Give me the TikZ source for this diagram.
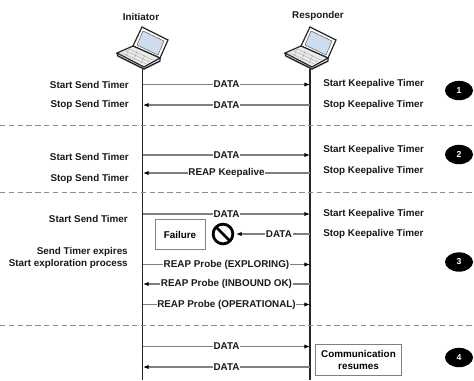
\documentclass[tikz,border=0pt]{standalone}
\usepackage{fontspec}
\setmainfont{Liberation Sans}
\usetikzlibrary{arrows.meta,shapes.geometric,calc}
\definecolor{linegray}{gray}{0.5}
\definecolor{screenblue}{RGB}{205,220,238}
\tikzset{
  x=0.75pt,y=-0.75pt,
  lbl/.style={font=\fontsize{7.4}{9}\selectfont\bfseries,inner sep=0pt,text=black!90},
  leftlbl/.style={lbl,anchor=east},
  rightlbl/.style={lbl,anchor=west},
  msg/.style={lbl,fill=white,inner xsep=0.5pt,inner ysep=0.5pt},
  conn/.style={draw=linegray,line width=0.8pt,-{Latex[length=4.2pt,width=3.2pt,black]}},
  life/.style={draw=black!85,line width=1.3pt},
  sep/.style={draw=black!45,dashed,dash pattern=on 4pt off 2.6pt,line width=0.6pt},
  badge/.style={ellipse,fill=black,text=white,minimum width=21pt,minimum height=14.5pt,inner sep=0pt,font=\fontsize{6.5}{8}\selectfont\bfseries},
  infobox/.style={draw=black!50,fill=white,line width=0.6pt,align=center,font=\fontsize{7.4}{9}\selectfont\bfseries,inner sep=0pt},
  laptop/.pic={
    \fill[white,draw=black!85,line width=0.9pt] (0,-41)--(26,-28)--(18,-10)--(-9,-22)--cycle;
    \fill[screenblue,draw=black!60,line width=0.4pt] (1,-37)--(22,-27)--(16,-13)--(-5,-23)--cycle;
    \fill[black!8,draw=black!85,line width=0.9pt] (-9,-22)--(18,-10)--(2,-1)--(-25,-15)--cycle;
    \draw[black!85,line width=1.1pt] (-25,-15)--(-24,-12)--(2,1)--(18,-7)--(18,-10);
    \draw[black!35,line width=0.3pt] (-16,-17)--(8,-6) (-13,-19)--(11,-8) (-20,-15)--(4,-4);
    \draw[black!35,line width=0.3pt] (-13,-20)--(-16,-12) (-5,-17)--(-8,-8) (3,-13)--(-1,-5);
  },
}
\begin{document}
\begin{tikzpicture}
\useasboundingbox (0,0) rectangle (474,380);
\node[lbl] (ini) at (141,17) {Initiator};
\node[lbl] (res) at (318,16) {Responder};
\path (142,68) pic {laptop};
\path (310,68) pic {laptop};
\coordinate (itop) at (142.5,69); \coordinate (ibot) at (142.5,380);
\coordinate (rtop) at (310,69); \coordinate (rbot) at (310,380);
\draw[life] (itop)--(ibot);
\draw[life] (rtop)--(rbot);
% separators
\coordinate (s1a) at (0,125); \coordinate (s1b) at (474,125);
\coordinate (s2a) at (0,192); \coordinate (s2b) at (474,192);
\coordinate (s3a) at (0,325); \coordinate (s3b) at (474,325);
\draw[sep] (s1a)--(s1b);
\draw[sep] (s2a)--(s2b);
\draw[sep] (s3a)--(s3b);
% left labels
\node[leftlbl] (l1) at (129,85) {Start Send Timer};
\node[leftlbl] (l2) at (129,105) {Stop Send Timer};
\node[leftlbl] (l3) at (129,157) {Start Send Timer};
\node[leftlbl] (l4) at (129,179) {Stop Send Timer};
\node[leftlbl] (l5) at (128,218.5) {Start Send Timer};
\node[leftlbl] (l6) at (128,252) {Send Timer expires};
\node[leftlbl] (l7) at (128,264) {Start exploration process};
% right labels
\node[rightlbl] (r1) at (323,84) {Start Keepalive Timer};
\node[rightlbl] (r2) at (323,104.5) {Stop Keepalive Timer};
\node[rightlbl] (r3) at (323,150) {Start Keepalive Timer};
\node[rightlbl] (r4) at (323,170.5) {Stop Keepalive Timer};
\node[rightlbl] (r5) at (323,214) {Start Keepalive Timer};
\node[rightlbl] (r6) at (323,234) {Stop Keepalive Timer};
% badges
\node[badge] (b1) at (459,90.5) {1};
\node[badge] (b2) at (459,154.5) {2};
\node[badge] (b3) at (459,262) {3};
\node[badge] (b4) at (459,357.5) {4};
% arrows
\coordinate (a1) at (143,84.5); \coordinate (a2) at (310,84.5);
\draw[conn] (a1)--(a2) node[msg,pos=0.5] (m1) {DATA};
\coordinate (a3) at (310,105); \coordinate (a4) at (143,105);
\draw[conn] (a3)--(a4) node[msg,pos=0.5] (m2) {DATA};
\coordinate (a5) at (143,155); \coordinate (a6) at (310,155);
\draw[conn] (a5)--(a6) node[msg,pos=0.5] (m3) {DATA};
\coordinate (a7) at (310,173); \coordinate (a8) at (143,173);
\draw[conn] (a7)--(a8) node[msg,pos=0.5] (m4) {REAP Keepalive};
\coordinate (a9) at (143,214); \coordinate (a10) at (310,214);
\draw[conn] (a9)--(a10) node[msg,pos=0.5] (m5) {DATA};
% failure
\node[infobox,minimum width=37.5pt,minimum height=23pt] (fail) at (180,234.5) {Failure};
\coordinate (nosign) at (223,234);
\draw[black,line width=2.1pt] (nosign) circle[radius=7.4pt];
\draw[black,line width=2.1pt] ($(nosign)+(-6.5,-6.5)$)--($(nosign)+(6.5,6.5)$);
\coordinate (a11) at (310,234); \coordinate (a12) at (236,234);
\draw[conn] (a11)--(a12) node[msg,pos=0.42] (m6) {DATA};
\coordinate (a13) at (143,264.5); \coordinate (a14) at (310,264.5);
\draw[conn] (a13)--(a14) node[msg,pos=0.5] (m7) {REAP Probe (EXPLORING)};
\coordinate (a15) at (310,284); \coordinate (a16) at (143,284);
\draw[conn] (a15)--(a16) node[msg,pos=0.5] (m8) {REAP Probe (INBOUND OK)};
\coordinate (a17) at (143,304.5); \coordinate (a18) at (310,304.5);
\draw[conn] (a17)--(a18) node[msg,pos=0.5] (m9) {REAP Probe (OPERATIONAL)};
\coordinate (a19) at (143,346.5); \coordinate (a20) at (310,346.5);
\draw[conn] (a19)--(a20) node[msg,pos=0.5] (m10) {DATA};
\coordinate (a21) at (310,367); \coordinate (a22) at (143,367);
\draw[conn] (a21)--(a22) node[msg,pos=0.5] (m11) {DATA};
\node[infobox,minimum width=64pt,minimum height=23pt] (comm) at (358.5,360) {Communication\\resumes};
\end{tikzpicture}
\end{document}
